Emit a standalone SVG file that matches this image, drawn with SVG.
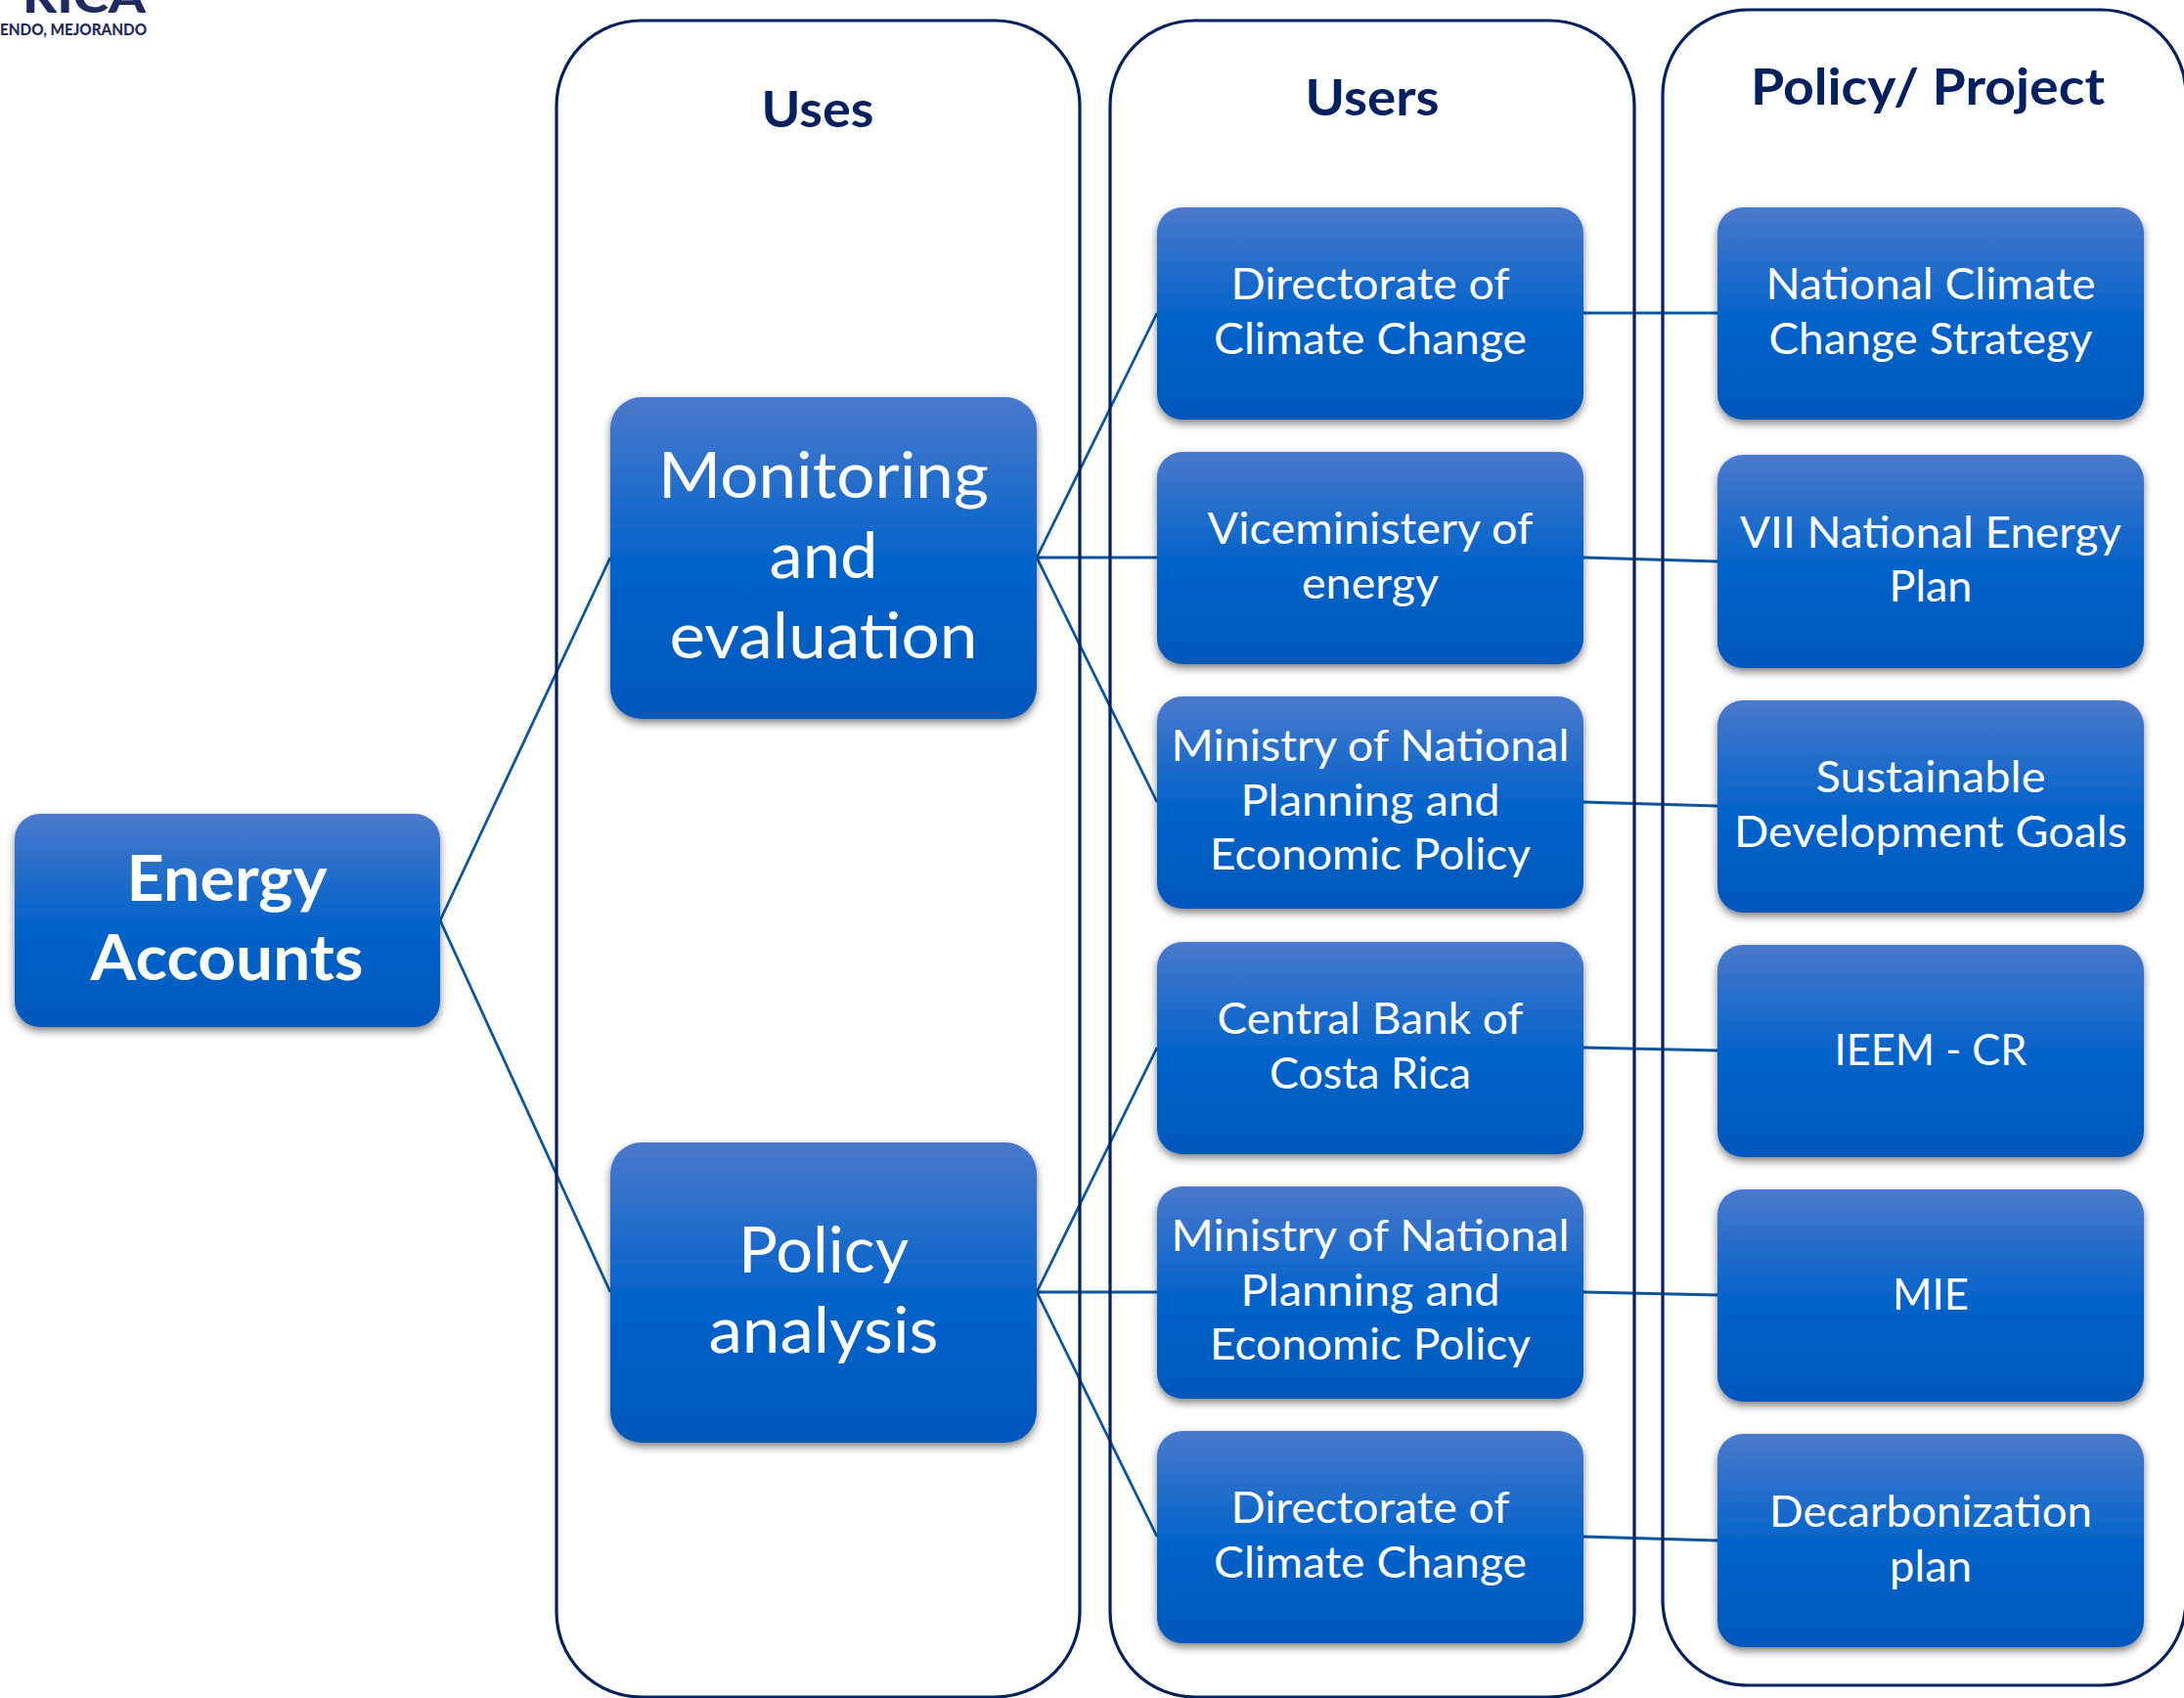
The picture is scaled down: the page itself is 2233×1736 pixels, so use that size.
<svg xmlns="http://www.w3.org/2000/svg" width="2233" height="1736" viewBox="0 0 2233 1736">
<style>
.panel{fill:none;stroke:#002060;stroke-width:3.2}
.box{fill:url(#g);filter:url(#s)}
.c{fill:none;stroke:#0b569f;stroke-width:2.8}
text{font-family:"Lato","Liberation Sans",sans-serif;text-anchor:middle}
.m{font-size:44px;fill:#fff}
.b{font-size:65px;fill:#fff}
.e{font-size:65px;fill:#fff;font-weight:700}
.t{font-size:52px;fill:#002060;font-weight:700}
.l{fill:#1f2a5e;font-weight:900}
</style>
<defs>
<linearGradient id="g" x1="0" y1="0" x2="0" y2="1">
<stop offset="0" stop-color="#4a79cc"/><stop offset=".5" stop-color="#0564ca"/><stop offset="1" stop-color="#0058bb"/>
</linearGradient>
<filter id="s" x="-5%" y="-5%" width="110%" height="115%">
<feDropShadow dx="0" dy="4" stdDeviation="4" flood-color="#000" flood-opacity=".5"/>
</filter>
</defs>
<rect width="2233" height="1736" fill="#fff"/>
<g id="logo">
<text class="l" x="86" y="13" font-size="46" textLength="126" lengthAdjust="spacingAndGlyphs">RICA</text>
<text class="l" x="75" y="36" font-size="16" textLength="150" lengthAdjust="spacingAndGlyphs">ENDO, MEJORANDO</text>
</g>
<g id="connectors">
<path class="c" d="M450 941L624 570M450 941L624 1321"/>
<path class="c" d="M1060 570L1183 320M1060 570H1183M1060 570L1183 820"/>
<path class="c" d="M1060 1321L1183 1071M1060 1321H1183M1060 1321L1183 1571"/>
<path class="c" d="M1619 320H1756M1619 570L1756 574M1619 820L1756 824M1619 1071L1756 1074M1619 1321L1756 1324M1619 1571L1756 1575"/>
</g>
<g id="panels">
<rect id="panel-uses" class="panel" x="569" y="21" width="535" height="1714" rx="87" ry="87"/>
<rect id="panel-users" class="panel" x="1135" y="21" width="536" height="1714" rx="87" ry="87"/>
<rect id="panel-policy" class="panel" x="1700" y="10" width="535" height="1713" rx="87" ry="87"/>
<text class="t" x="836" y="130" textLength="115" lengthAdjust="spacingAndGlyphs">Uses</text>
<text class="t" x="1403" y="118" textLength="137" lengthAdjust="spacingAndGlyphs">Users</text>
<text class="t" x="1971" y="107" textLength="362" lengthAdjust="spacingAndGlyphs">Policy/ Project</text>
</g>
<g id="energy-accounts"><rect class="box" x="15" y="832" width="435" height="218" rx="26"/>
<text class="e" x="232" y="921" textLength="205" lengthAdjust="spacingAndGlyphs">Energy</text>
<text class="e" x="232" y="1002" textLength="279" lengthAdjust="spacingAndGlyphs">Accounts</text></g>
<g id="monitoring"><rect class="box" x="624" y="406" width="436" height="329" rx="32"/>
<text class="b" x="842" y="509" textLength="338" lengthAdjust="spacingAndGlyphs">Monitoring</text>
<text class="b" x="842" y="591" textLength="111" lengthAdjust="spacingAndGlyphs">and</text>
<text class="b" x="842" y="673" textLength="315" lengthAdjust="spacingAndGlyphs">evaluation</text></g>
<g id="policy-analysis"><rect class="box" x="624" y="1168" width="436" height="307" rx="32"/>
<text class="b" x="842" y="1301" textLength="174" lengthAdjust="spacingAndGlyphs">Policy</text>
<text class="b" x="842" y="1383" textLength="235" lengthAdjust="spacingAndGlyphs">analysis</text></g>
<g id="user-1"><rect class="box" x="1183" y="212" width="436" height="217" rx="26"/>
<text class="m" x="1401" y="306" textLength="285" lengthAdjust="spacingAndGlyphs">Directorate of</text>
<text class="m" x="1401" y="362" textLength="320" lengthAdjust="spacingAndGlyphs">Climate Change</text></g>
<g id="user-2"><rect class="box" x="1183" y="462" width="436" height="217" rx="26"/>
<text class="m" x="1401" y="556" textLength="333" lengthAdjust="spacingAndGlyphs">Viceministery of</text>
<text class="m" x="1401" y="612" textLength="140" lengthAdjust="spacingAndGlyphs">energy</text></g>
<g id="user-3"><rect class="box" x="1183" y="712" width="436" height="217" rx="26"/>
<text class="m" x="1401" y="778" textLength="407" lengthAdjust="spacingAndGlyphs">Ministry of National</text>
<text class="m" x="1401" y="834" textLength="265" lengthAdjust="spacingAndGlyphs">Planning and</text>
<text class="m" x="1401" y="889" textLength="328" lengthAdjust="spacingAndGlyphs">Economic Policy</text></g>
<g id="user-4"><rect class="box" x="1183" y="963" width="436" height="217" rx="26"/>
<text class="m" x="1401" y="1057" textLength="313" lengthAdjust="spacingAndGlyphs">Central Bank of</text>
<text class="m" x="1401" y="1113" textLength="206" lengthAdjust="spacingAndGlyphs">Costa Rica</text></g>
<g id="user-5"><rect class="box" x="1183" y="1213" width="436" height="217" rx="26"/>
<text class="m" x="1401" y="1279" textLength="407" lengthAdjust="spacingAndGlyphs">Ministry of National</text>
<text class="m" x="1401" y="1335" textLength="265" lengthAdjust="spacingAndGlyphs">Planning and</text>
<text class="m" x="1401" y="1390" textLength="328" lengthAdjust="spacingAndGlyphs">Economic Policy</text></g>
<g id="user-6"><rect class="box" x="1183" y="1463" width="436" height="217" rx="26"/>
<text class="m" x="1401" y="1557" textLength="285" lengthAdjust="spacingAndGlyphs">Directorate of</text>
<text class="m" x="1401" y="1613" textLength="320" lengthAdjust="spacingAndGlyphs">Climate Change</text></g>
<g id="policy-1"><rect class="box" x="1756" y="212" width="436" height="217" rx="26"/>
<text class="m" x="1974" y="306" textLength="337" lengthAdjust="spacingAndGlyphs">National Climate</text>
<text class="m" x="1974" y="362" textLength="331" lengthAdjust="spacingAndGlyphs">Change Strategy</text></g>
<g id="policy-2"><rect class="box" x="1756" y="465" width="436" height="218" rx="26"/>
<text class="m" x="1974" y="560" textLength="390" lengthAdjust="spacingAndGlyphs">VII National Energy</text>
<text class="m" x="1974" y="615" textLength="85" lengthAdjust="spacingAndGlyphs">Plan</text></g>
<g id="policy-3"><rect class="box" x="1756" y="716" width="436" height="217" rx="26"/>
<text class="m" x="1974" y="810" textLength="235" lengthAdjust="spacingAndGlyphs">Sustainable</text>
<text class="m" x="1974" y="866" textLength="402" lengthAdjust="spacingAndGlyphs">Development Goals</text></g>
<g id="policy-4"><rect class="box" x="1756" y="966" width="436" height="217" rx="26"/>
<text class="m" x="1974" y="1089" textLength="197" lengthAdjust="spacingAndGlyphs">IEEM - CR</text></g>
<g id="policy-5"><rect class="box" x="1756" y="1216" width="436" height="217" rx="26"/>
<text class="m" x="1974" y="1339" textLength="78" lengthAdjust="spacingAndGlyphs">MIE</text></g>
<g id="policy-6"><rect class="box" x="1756" y="1466" width="436" height="218" rx="26"/>
<text class="m" x="1974" y="1561" textLength="330" lengthAdjust="spacingAndGlyphs">Decarbonization</text>
<text class="m" x="1974" y="1617" textLength="84" lengthAdjust="spacingAndGlyphs">plan</text></g>
</svg>
